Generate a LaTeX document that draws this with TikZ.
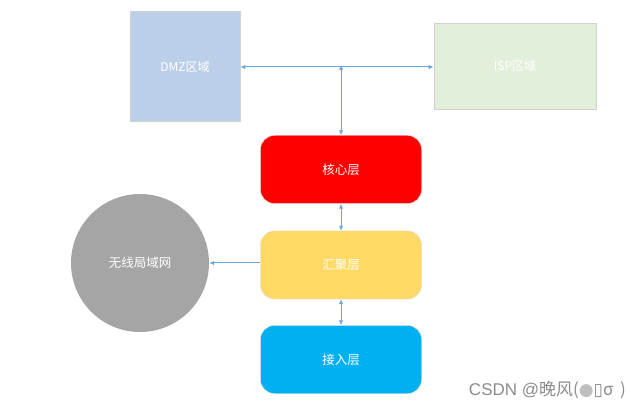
\documentclass[tikz,border=0pt]{standalone}
\usepackage{fontspec}
\setmainfont{Noto Sans CJK SC}
\newfontfamily\symfont{DejaVu Sans}
\newfontfamily\wmfont{Liberation Sans}
\usetikzlibrary{arrows.meta}
\definecolor{dmzc}{HTML}{BCCFE8}
\definecolor{ispc}{HTML}{E2EFDA}
\definecolor{corec}{HTML}{FF0000}
\definecolor{aggc}{HTML}{FFD966}
\definecolor{accc}{HTML}{00B0F0}
\definecolor{wlanc}{HTML}{A5A5A5}
\definecolor{linec}{HTML}{6FA6DC}
\begin{document}
\begin{tikzpicture}[x=1pt,y=-1pt,
  zone/.style={draw=black!18,line width=0.6pt,inner sep=0pt,text=white,font=\fontsize{12}{14}\selectfont},
  layer/.style={draw=white!85!black,line width=0.4pt,rounded corners=14pt,minimum width=161pt,minimum height=68pt,inner sep=0pt,text=white,font=\fontsize{12.5}{14}\selectfont},
  tip/.tip={Latex[length=5pt,width=4.5pt]},
  link/.style={draw=linec,line width=1pt,tip-tip},
  onelink/.style={draw=linec,line width=1pt,-tip}]
\useasboundingbox (0,0) rectangle (639,411);
\fill[white] (0,0) rectangle (639,411);
\node[zone,fill=dmzc,minimum width=110pt,minimum height=110pt] (dmz) at (185,66.5) {DMZ区域};
\node[zone,fill=ispc,minimum width=162pt,minimum height=86pt] (isp) at (515,66) {ISP区域};
\node[layer,fill=corec] (core) at (341,169.5) {核心层};
\node[layer,fill=aggc] (agg) at (341,265) {汇聚层};
\node[layer,fill=accc] (acc) at (341,359.5) {接入层};
\node[circle,fill=wlanc,minimum size=138pt,inner sep=0pt,text=white,font=\fontsize{12.5}{14}\selectfont] (wlan) at (140,263) {无线局域网};
\coordinate (mid) at (341,67);
\draw[link] (dmz.east |- mid) -- (isp.west |- mid);
\draw[link] ([yshift=2pt]mid) -- (core.north);
\draw[link] (core.south) -- (agg.north);
\draw[link] (agg.south) -- (acc.north);
\draw[onelink] (agg.west |- wlan) -- (wlan.east);
\node[anchor=east,text=black!45,font=\fontsize{17}{19}\selectfont,inner sep=0pt] (wm) at (626,390) {{\wmfont CSDN @}晚风({\symfont\textcolor{black!25}{●}}{\symfont ▯}σ\ \,)};
\end{tikzpicture}
\end{document}
